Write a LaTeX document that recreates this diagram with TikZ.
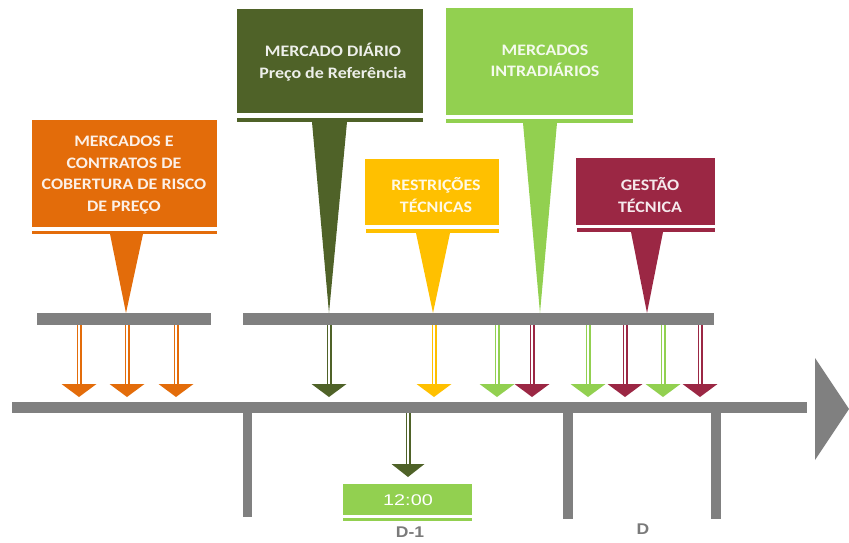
\documentclass[tikz,border=0pt]{standalone}
\usepackage{fontspec}
\setmainfont{Carlito}
\newfontfamily\boxfont[FakeStretch=1.12]{Carlito}
\newfontfamily\arialf[FakeStretch=1.13]{Liberation Sans}
\newfontfamily\arialw[FakeStretch=1.28]{Liberation Sans}
\definecolor{cOrange}{HTML}{E36C0A}
\definecolor{cDark}{HTML}{4F6228}
\definecolor{cLight}{HTML}{92D050}
\definecolor{cYellow}{HTML}{FFC000}
\definecolor{cRed}{HTML}{9B2744}
\definecolor{cGray}{HTML}{808080}
\begin{document}
\begin{tikzpicture}[x=1pt,y=-1pt,
  boxst/.style={fill=#1, draw=none, inner sep=0pt, outer sep=0pt},
  boxtxt/.style={text=white!90!#1, font=\boxfont\bfseries\fontsize{16}{21.5}\selectfont, align=center, inner sep=0pt},
  barst/.style={fill=cGray, draw=none, inner sep=0pt, outer sep=0pt},
  shaft/.style={draw=#1, double=white, double distance=1.4pt, line width=1.8pt},
  labtxt/.style={font=\arialf\bfseries\fontsize{15.5}{18}\selectfont, text=cGray!95!black, inner sep=0pt}]
\useasboundingbox (0,0) rectangle (849,543);

% ---- boxes (top) ----
\node[boxst=cOrange, minimum width=185pt, minimum height=107pt] (obox) at (124.5,173.5) {};
\fill[cOrange] (32,231) rectangle (217,234);
\fill[cOrange] (110,234) -- (143,234) -- (126,313) -- cycle;
\node[boxtxt=cOrange] (otxt) at (124,175) {MERCADOS E\\CONTRATOS DE\\COBERTURA DE RISCO\\DE PREÇO};

\node[boxst=cDark, minimum width=186pt, minimum height=104pt] (dbox) at (330,61) {};
\fill[cDark] (237,118) rectangle (423,122);
\fill[cDark] (312,122) -- (347,122) -- (329,313) -- cycle;
\node[boxtxt=cDark] (dtxt) at (333,62) {MERCADO DIÁRIO\\Preço de Referência};

\node[boxst=cLight, minimum width=187pt, minimum height=107pt] (lbox) at (539.5,61.5) {};
\fill[cLight] (446,119) rectangle (633,123);
\fill[cLight] (523,123) -- (557,123) -- (540,313) -- cycle;
\node[boxtxt=cLight] (ltxt) at (545,61) {MERCADOS\\INTRADIÁRIOS};

\node[boxst=cYellow, minimum width=134pt, minimum height=66pt] (ybox) at (432,192) {};
\fill[cYellow] (366,229) rectangle (499,233);
\fill[cYellow] (416,233) -- (450,233) -- (433,313) -- cycle;
\node[boxtxt=cYellow] (ytxt) at (436,195) {RESTRIÇÕES\\TÉCNICAS};

\node[boxst=cRed, minimum width=139pt, minimum height=67pt] (rbox) at (645.5,191) {};
\fill[cRed] (577,228) rectangle (715,232);
\fill[cRed] (631,232) -- (663,232) -- (647,313) -- cycle;
\node[boxtxt=cRed] (rtxt) at (650,195) {GESTÃO\\TÉCNICA};

% ---- gray bars ----
\node[barst, minimum width=174pt, minimum height=12pt] (bar1) at (124,319) {};
\node[barst, minimum width=471pt, minimum height=12pt] (bar2) at (478.5,319) {};
\node[barst, minimum width=795pt, minimum height=11pt] (tline) at (409.5,407.5) {};
\fill[cGray] (815,358) -- (849,409) -- (815,460) -- cycle;
\fill[cGray] (243,413) rectangle (252,517);
\fill[cGray] (563,413) rectangle (573,519);
\fill[cGray] (711,413) rectangle (721,519);

% ---- down arrows ----
\foreach \cx/\cc in {79/cOrange,127/cOrange,176/cOrange,329/cDark,434/cYellow,497/cLight,532/cRed,588/cLight,625/cRed,663/cLight,700/cRed}{
  \draw[shaft=\cc] (\cx,325) -- (\cx,385);
  \fill[\cc] (\cx-17.5,384) -- (\cx+17.5,384) -- (\cx,397) -- cycle;
}
\draw[shaft=cDark] (408,413) -- (408,465);
\fill[cDark] (391.5,464) -- (424.5,464) -- (408,477) -- cycle;

% ---- bottom box ----
\node[boxst=cLight, minimum width=129pt, minimum height=31pt] (tbox) at (407.5,499.5) {};
\fill[cLight] (343,518) rectangle (472,521);
\node[font=\arialw\fontsize{15.5}{17}\selectfont, text=white, inner sep=0pt] (ttxt) at (408,500) {12:00};
\node[labtxt] (dm1) at (410,532.5) {D-1};
\node[labtxt] (dd) at (643,529.5) {D};
\end{tikzpicture}
\end{document}
